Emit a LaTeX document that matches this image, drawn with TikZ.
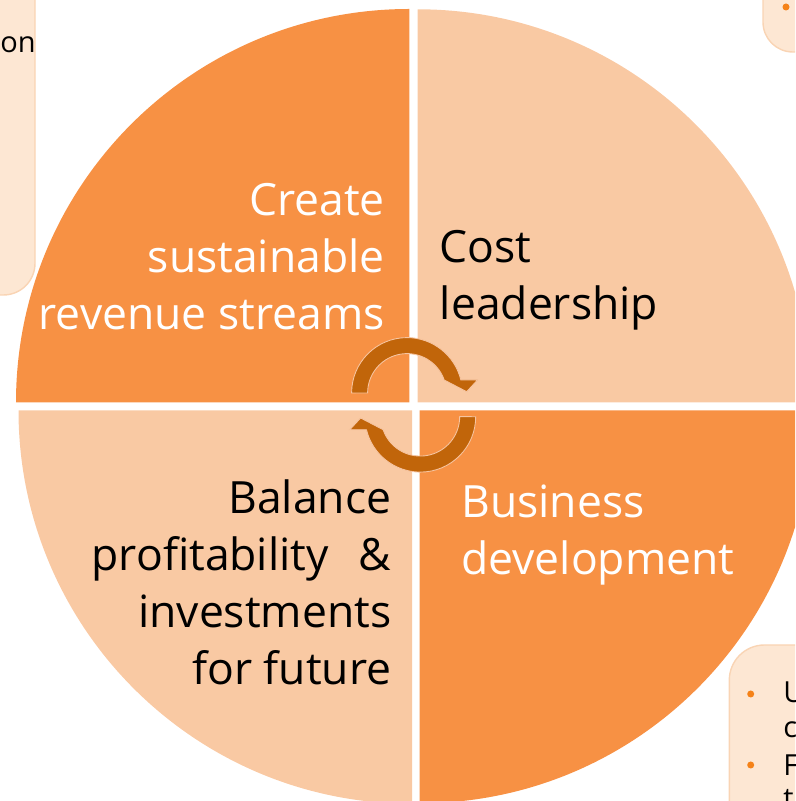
\documentclass[tikz,border=0pt]{standalone}
\usepackage{fontspec}
\setmainfont{Open Sans}
\definecolor{darkOrange}{RGB}{247,145,68}
\definecolor{lightOrange}{RGB}{249,201,163}
\definecolor{arrowBrown}{RGB}{193,101,10}
\definecolor{arrowEdge}{RGB}{246,196,160}
\definecolor{boxFill}{RGB}{253,231,211}
\definecolor{boxEdge}{RGB}{249,212,180}
\definecolor{bulletOrange}{RGB}{245,130,24}
\tikzset{
  cycleArrow/.style={fill=arrowBrown, draw=arrowEdge, line width=0.5pt},
  sideBox/.style={fill=boxFill, draw=boxEdge, line width=0.8pt},
  bigLabel/.style={font=\fontsize{25.3}{32.6}\selectfont, inner sep=0pt},
  boxText/.style={font=\fontsize{16.5}{20}\selectfont, inner sep=0pt},
  bullet/.style={fill=bulletOrange}
}

\begin{document}
\begin{tikzpicture}[x=0.02cm,y=0.02cm]
\useasboundingbox (0,0) rectangle (795,801);
\clip (0,0) rectangle (795,801);
% four quarters of the wheel
\foreach \cx/\cy/\r/\a/\col in {409.3/398.7/393.3/90/darkOrange, 417.7/398.7/393/0/lightOrange,
    412/390.7/393.5/180/lightOrange, 419.7/390.7/393/270/darkOrange}{
  \fill[\col] (\cx,\cy) -- ++(\a:\r) arc[start angle=\a, end angle=\a+90, radius=\r] -- cycle;
}
% circular arrows in the middle
\foreach \rot in {0,180}{
  \filldraw[cycleArrow, rotate around={\rot:(413.65,396.15)}]
    (351.6,408) arc[start angle=180, end angle=13.6, radius=55.4]
    -- (477.5,421) -- (466.7,409.3) -- (444.2,421)
    arc[start angle=19.3, end angle=180, radius=39.4] -- cycle;
}
\node[bigLabel, text=white, align=right, anchor=base east] (revenue) at (385,471)
  {Create\\sustainable\\revenue streams};
\node[bigLabel, text=black, align=left, anchor=base west] (cost) at (439.5,481)
  {Cost\\leadership};
\node[bigLabel, text=black, align=right, anchor=base east] (balance) at (391.7,116)
  {Balance\\profitability~~\hspace{4pt}\&\\investments\\for future};
\node[bigLabel, text=white, align=left, anchor=base west] (business) at (461,226)
  {Business\\development};
% side boxes, partly outside
\draw[sideBox, rounded corners=18pt] (-40,506) rectangle (35,841);
\draw[sideBox, rounded corners=17pt] (763,749) rectangle (835,841);
\draw[sideBox, rounded corners=20pt] (729.3,156) rectangle (835,-40);
\node[boxText, anchor=base east] (onTxt) at (36,748) {on};
\fill[bullet] (786,794) circle[radius=3.5];
\fill[bullet] (750.7,107) circle[radius=3.5];
\fill[bullet] (750.7,36) circle[radius=3.5];
\node[boxText, anchor=base west] (uTxt) at (783,98) {U};
\node[boxText, anchor=base west] (cTxt) at (783,63) {c};
\node[boxText, anchor=base west] (fTxt) at (783,26) {F};
\node[boxText, anchor=base west] (tTxt) at (783,-8) {t};
\end{tikzpicture}
\end{document}
